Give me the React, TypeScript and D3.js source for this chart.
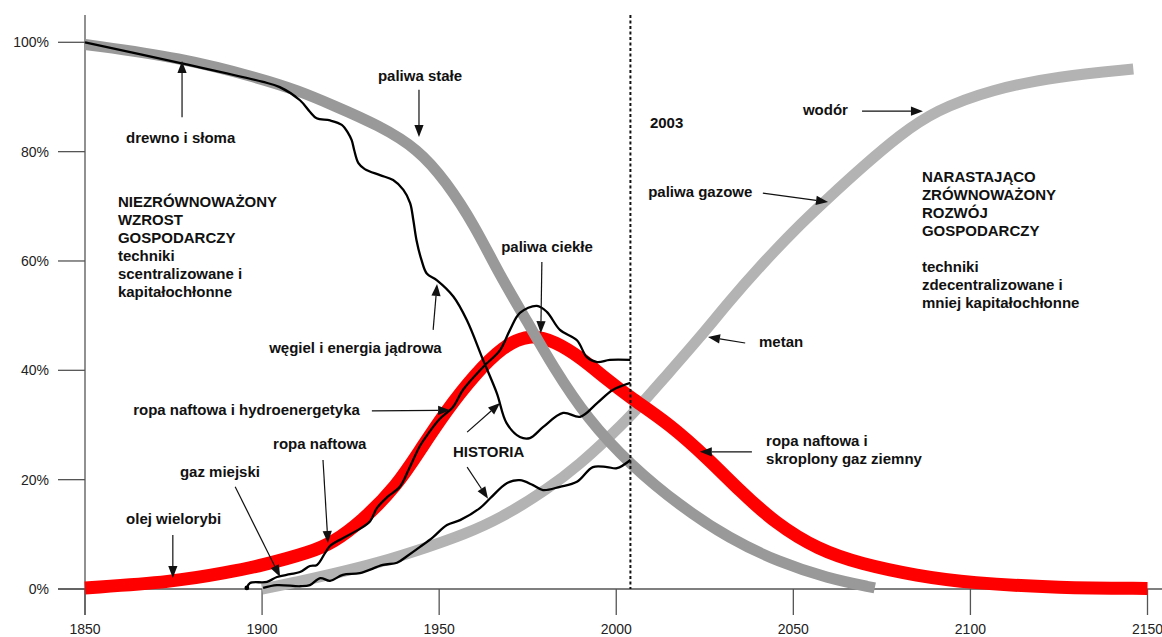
import React from "react";
import * as d3 from "d3";

type P = [number, number];

const WIDTH = 1162;
const HEIGHT = 637;

const xTickYears = [1850, 1900, 1950, 2000, 2050, 2100, 2150];
const yTickPcts = [0, 20, 40, 60, 80, 100];
const markerYear = 2004;
const markerLabel = "2003";

// Substitution curves (market share %)
const solidFuels: P[] = [
  [1850, 99.6], [1877, 97.2], [1900, 93.3], [1910, 91.2], [1920, 88.5], [1933, 84.8],
  [1944, 80.5], [1952, 74.5], [1960, 66.5], [1967, 57.5], [1975, 48.8], [1982, 40.8],
  [1992, 31.0], [2004, 22.7], [2018, 15.2], [2032, 9.2], [2046, 4.9], [2059.5, 2.0], [2073, 0.2],
];

const liquidFuels: P[] = [
  [1850, 0.2], [1875, 1.3], [1890, 3.0], [1900, 4.3], [1914, 6.8], [1920, 8.5], [1928, 12.3],
  [1938, 18.8], [1945, 25.8], [1952, 32.6], [1960, 39.2], [1968, 44.4], [1975.5, 46.7],
  [1983, 45.2], [1990, 42.3], [1997, 38.5], [2004, 35.0], [2015, 30.2], [2026, 23.8],
  [2035, 17.9], [2045, 12.0], [2057, 7.2], [2069, 4.6], [2085, 2.4], [2100, 1.1],
  [2125, 0.2], [2150, 0.1],
];

const gaseousFuels: P[] = [
  [1900, 0], [1910, 1.3], [1919, 2.6], [1933, 4.8], [1947, 7.7], [1957, 10.0], [1967, 12.8],
  [1981, 18.4], [1990, 23.0], [1997, 27.2], [2004, 31.5], [2013, 38.2], [2023.6, 46.0],
  [2032, 52.7], [2040.6, 59.0], [2050, 65.5], [2060, 71.6], [2070, 77.5], [2080, 83.0],
  [2090, 87.5], [2106, 91.4], [2125, 93.8], [2146, 95.1],
];

// Historical data (black lines)
const historyCoal: P[] = [
  [1850, 100], [1877, 96.2], [1900, 92.8], [1905, 91.8], [1910.7, 89.4], [1913.5, 87.3],
  [1915.4, 86.1], [1919.2, 85.7], [1922.5, 84.9], [1924.3, 83.4], [1925.3, 82.1], [1926, 80.3],
  [1927.2, 77.9], [1929, 76.8], [1933.3, 75.7], [1937, 74.8], [1939.9, 73.0], [1941.8, 70.6],
  [1942.7, 67.5], [1943.6, 63.8], [1945, 60.2], [1946.5, 57.7], [1949.3, 56.5], [1954, 53.5],
  [1957.8, 49.2], [1962.4, 41.9], [1966.3, 35.8], [1969, 30.4], [1972.8, 27.8], [1975.6, 27.6],
  [1979.3, 29.6], [1985, 32.2], [1989.8, 31.5], [1994.6, 34.0], [1999, 36.4], [2004, 37.7],
];

const historyOil: P[] = [
  [1895.7, 0.2], [1896.6, 1.1], [1901.4, 1.3], [1904.2, 2.2], [1907.9, 2.7], [1910.7, 3.1],
  [1913.5, 4.2], [1915.5, 4.4], [1917.8, 6.6], [1919.2, 7.9], [1922.8, 9.3], [1927.6, 11.0],
  [1930.5, 12.4], [1932.4, 14.8], [1935.3, 16.8], [1938.9, 18.7], [1941.5, 22.0], [1944.6, 26.2],
  [1947, 28.5], [1950, 31.0], [1953.9, 33.3], [1956.7, 36.4], [1962.4, 40.6], [1967.2, 43.7],
  [1970, 47.4], [1972.8, 50.5], [1977.6, 51.8], [1980.4, 50.7], [1984.1, 47.4], [1988.9, 45.5],
  [1991.7, 42.4], [1994.6, 41.5], [1998.2, 41.9], [2004, 41.9],
];

const historyGas: P[] = [
  [1900.3, 0.2], [1904.2, 0.7], [1910.7, 0.5], [1913.5, 0.7], [1916.4, 2.0], [1919.2, 1.5],
  [1922.8, 2.6], [1927.6, 2.9], [1934.1, 4.4], [1938.1, 4.8], [1940.9, 6.0], [1944.6, 7.7],
  [1948.3, 9.5], [1952.2, 11.7], [1955.9, 12.6], [1961.5, 14.8], [1964.4, 16.6], [1969.2, 19.4],
  [1972.8, 19.9], [1976.5, 19.0], [1979.3, 18.1], [1984.1, 18.7], [1988.9, 19.6], [1993.4, 22.3],
  [1997.4, 22.3], [2000.2, 22.1], [2004, 23.6],
];

// Annotations in data coordinates: [year, pct]
const labels: { text: string; at: P }[] = [
  { text: "drewno i słoma", at: [1861.6, 81.6] },
  { text: "paliwa stałe", at: [1932.7, 92.9] },
  { text: "węgiel i energia jądrowa", at: [1902.0, 43.2] },
  { text: "paliwa ciekłe", at: [1967.5, 61.6] },
  { text: "ropa naftowa i hydroenergetyka", at: [1863.6, 31.8] },
  { text: "ropa naftowa", at: [1903.1, 25.6] },
  { text: "gaz miejski", at: [1876.8, 20.5] },
  { text: "olej wielorybi", at: [1861.6, 11.9] },
  { text: "HISTORIA", at: [1953.9, 24.1] },
  { text: markerLabel, at: [2009.5, 84.3] },
  { text: "paliwa gazowe", at: [2009.0, 71.7] },
  { text: "wodór", at: [2052.7, 86.7] },
  { text: "metan", at: [2040.3, 44.3] },
];

const blocks: { lines: string[]; at: P }[] = [
  {
    lines: ["NIEZRÓWNOWAŻONY", "WZROST", "GOSPODARCZY", "techniki", "scentralizowane i", "kapitałochłonne"],
    at: [1859.3, 69.9],
  },
  {
    lines: ["NARASTAJĄCO", "ZRÓWNOWAŻONY", "ROZWÓJ", "GOSPODARCZY", "", "techniki", "zdecentralizowane i", "mniej kapitałochłonne"],
    at: [2086.3, 74.4],
  },
  { lines: ["ropa naftowa i", "skroplony gaz ziemny"], at: [2042.3, 26.2] },
];

const arrows: { from: P; to: P }[] = [
  { from: [1877.4, 86.3], to: [1877.4, 96.6] },
  { from: [1944.3, 91.3], to: [1944.3, 82.7] },
  { from: [1948.3, 47.4], to: [1949.4, 55.8] },
  { from: [1979.0, 59.8], to: [1978.7, 46.8] },
  { from: [1931.0, 32.6], to: [1953.1, 32.7] },
  { from: [1917.2, 23.6], to: [1918.6, 8.4] },
  { from: [1892.4, 18.7], to: [1905.1, 2.2] },
  { from: [1874.8, 9.9], to: [1874.8, 2.0] },
  { from: [1957.9, 28.7], to: [1967.2, 34.0] },
  { from: [1957.9, 22.3], to: [1963.8, 16.5] },
  { from: [2069.4, 87.4], to: [2086.6, 87.4] },
  { from: [2041.4, 72.4], to: [2059.8, 70.8] },
  { from: [2036.4, 45.0], to: [2025.9, 46.1] },
  { from: [2038.3, 25.1], to: [2023.6, 25.1] },
];

const FONT = "'Liberation Sans', Arial, Helvetica, sans-serif";
const LINE_H = 18;

export default function App() {
  const x = d3.scaleLinear().domain([1850, 2150]).range([85, 1147.5]);
  const y = d3.scaleLinear().domain([0, 100]).range([589, 42.3]);

  const band = d3
    .line<P>()
    .x((d) => x(d[0]))
    .y((d) => y(d[1]))
    .curve(d3.curveBasis);
  const hist = d3
    .line<P>()
    .x((d) => x(d[0]))
    .y((d) => y(d[1]))
    .curve(d3.curveCatmullRom.alpha(0.5));

  const axisColor = "#555";
  const yAxisTop = y(105);
  const tickEnd = y(0) + 26;

  const arrowEls = arrows.map((a, i) => {
    const x1 = x(a.from[0]);
    const y1 = y(a.from[1]);
    const x2 = x(a.to[0]);
    const y2 = y(a.to[1]);
    const dx = x2 - x1;
    const dy = y2 - y1;
    const len = Math.hypot(dx, dy);
    const ux = dx / len;
    const uy = dy / len;
    const hl = 12;
    const hw = 4.6;
    const bx = x2 - ux * hl;
    const by = y2 - uy * hl;
    const pts = [
      [x2, y2],
      [bx - uy * hw, by + ux * hw],
      [bx + uy * hw, by - ux * hw],
    ]
      .map((p) => p.join(","))
      .join(" ");
    return (
      <g key={i}>
        <line x1={x1} y1={y1} x2={bx} y2={by} stroke="#111" strokeWidth={1.2} />
        <polygon points={pts} fill="#111" />
      </g>
    );
  });

  return (
    <svg
      width={WIDTH}
      height={HEIGHT}
      style={{ position: "absolute", left: 0, top: 0, background: "#fff" }}
      fontFamily={FONT}
    >
      <rect x={0} y={0} width={WIDTH} height={HEIGHT} fill="#fff" />

      {/* axes */}
      <line x1={x(1850)} x2={x(1850)} y1={yAxisTop} y2={tickEnd} stroke={axisColor} strokeWidth={1.3} />
      <line x1={58} x2={WIDTH} y1={y(0)} y2={y(0)} stroke={axisColor} strokeWidth={1.3} />
      {yTickPcts.map((v) => (
        <g key={"y" + v}>
          <line x1={58} x2={x(1850)} y1={y(v)} y2={y(v)} stroke={axisColor} strokeWidth={1.3} />
          <text x={49} y={y(v) + 5} textAnchor="end" fontSize={14} fill="#222">
            {v + "%"}
          </text>
        </g>
      ))}
      {xTickYears.map((v) => (
        <g key={"x" + v}>
          <line x1={x(v)} x2={x(v)} y1={y(0)} y2={tickEnd} stroke={axisColor} strokeWidth={1.3} />
          <text x={x(v)} y={634} textAnchor="middle" fontSize={14} fill="#222">
            {v}
          </text>
        </g>
      ))}

      {/* substitution bands */}
      <path d={band(gaseousFuels) || ""} fill="none" stroke="#b3b3b3" strokeWidth={11} />
      <path d={band(liquidFuels) || ""} fill="none" stroke="#ff0000" strokeWidth={13} />
      <path d={band(solidFuels) || ""} fill="none" stroke="#999999" strokeWidth={11} />

      {/* history lines */}
      <path d={hist(historyCoal) || ""} fill="none" stroke="#000" strokeWidth={2.3} strokeLinejoin="round" />
      <path d={hist(historyOil) || ""} fill="none" stroke="#000" strokeWidth={2.3} strokeLinejoin="round" />
      <path d={hist(historyGas) || ""} fill="none" stroke="#000" strokeWidth={2.3} strokeLinejoin="round" />
      <circle cx={x(historyOil[0][0])} cy={y(historyOil[0][1])} r={2.4} fill="#000" />

      {/* 2003 marker */}
      <line
        x1={x(markerYear)}
        x2={x(markerYear)}
        y1={yAxisTop}
        y2={y(0)}
        stroke="#111"
        strokeWidth={2}
        strokeDasharray="3,2.5"
      />

      {/* arrows */}
      {arrowEls}

      {/* labels */}
      {labels.map((l, i) => (
        <text key={"l" + i} x={x(l.at[0])} y={y(l.at[1])} fontSize={15} fontWeight="bold" fill="#111">
          {l.text}
        </text>
      ))}
      {blocks.map((b, i) => (
        <text key={"b" + i} fontSize={15} fontWeight="bold" fill="#111">
          {b.lines.map((ln, j) => (
            <tspan key={j} x={x(b.at[0])} y={y(b.at[1]) + j * LINE_H}>
              {ln}
            </tspan>
          ))}
        </text>
      ))}
    </svg>
  );
}
